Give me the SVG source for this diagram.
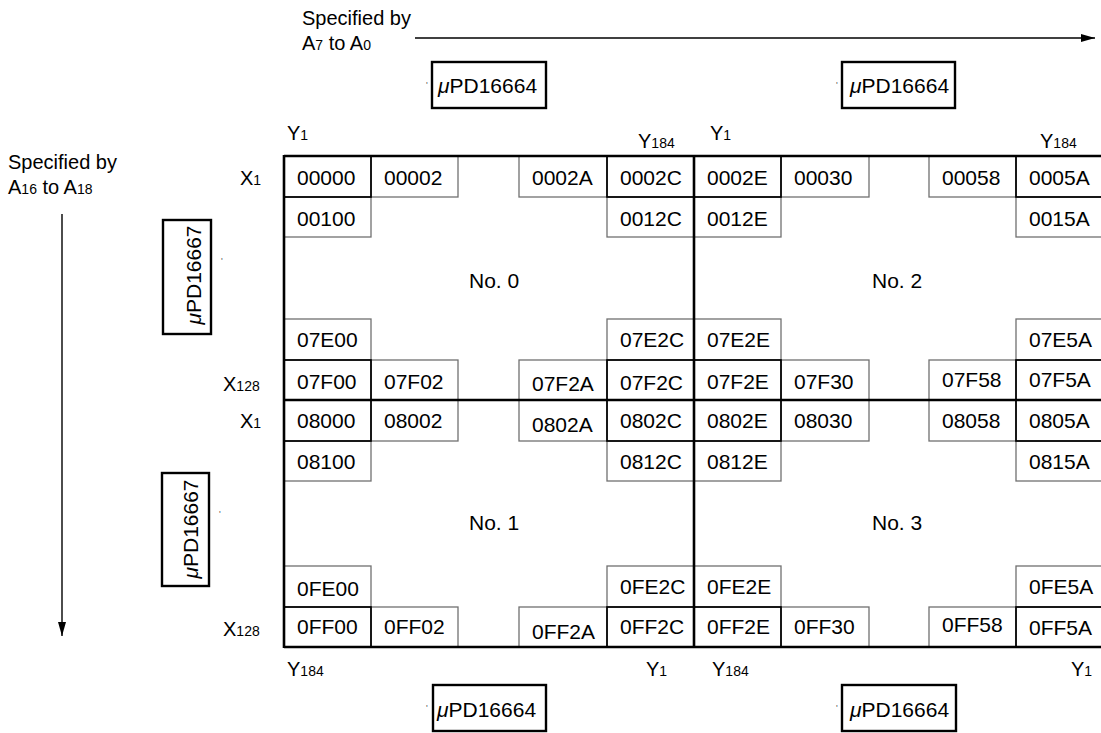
<svg xmlns="http://www.w3.org/2000/svg" width="1101" height="733" viewBox="0 0 1101 733">
<style>
text{font-family:"Liberation Sans",Arial,sans-serif;font-size:21px;fill:#000}
.lbl{font-size:20px}
.sub{font-size:14px}
.cg{fill:#fff;stroke:#707070;stroke-width:1.3}
.cb{fill:none;stroke:#000;stroke-width:1.7}
.thick{stroke:#000;stroke-width:2.6;fill:none}
.chip{fill:#fff;stroke:#000;stroke-width:2.4}
.tick{font-size:9px;fill:#555}
.arr{stroke:#000;stroke-width:1.4;fill:none}
</style>
<defs>
<marker id="ah" viewBox="0 0 14 8" refX="14" refY="4" markerWidth="14" markerHeight="8" markerUnits="userSpaceOnUse" orient="auto">
<path d="M0,0 L14,4 L0,8 Z" fill="#000"/>
</marker>
</defs>
<rect width="1101" height="733" fill="#fff"/>

<g id="label-top">
<text class="lbl" x="302" y="25">Specified by</text>
<text class="lbl" x="302" y="50">A<tspan class="sub">7</tspan> to A<tspan class="sub">0</tspan></text>
</g>
<g id="label-left">
<text class="lbl" x="8" y="169">Specified by</text>
<text class="lbl" x="8" y="194">A<tspan class="sub">16</tspan> to A<tspan class="sub">18</tspan></text>
</g>

<g id="connectors">
<line class="arr" x1="415" y1="38" x2="1095" y2="38" marker-end="url(#ah)"/>
<line class="arr" x1="62" y1="214" x2="62" y2="636" marker-end="url(#ah)"/>
</g>

<g id="chip-top-left">
<rect class="chip" x="432" y="62" width="114" height="46"/>
<text x="438" y="93"><tspan font-style="italic">μ</tspan>PD16664</text>
<text class="tick" x="426" y="88">'</text>
</g>
<g id="chip-top-right">
<rect class="chip" x="842" y="62" width="113" height="46"/>
<text x="850" y="93"><tspan font-style="italic">μ</tspan>PD16664</text>
<text class="tick" x="836" y="88">'</text>
</g>
<g id="chip-bottom-left">
<rect class="chip" x="433" y="685" width="113" height="46"/>
<text x="437" y="717"><tspan font-style="italic">μ</tspan>PD16664</text>
<text class="tick" x="426" y="711">'</text>
</g>
<g id="chip-bottom-right">
<rect class="chip" x="842" y="685" width="114" height="46"/>
<text x="850" y="717"><tspan font-style="italic">μ</tspan>PD16664</text>
<text class="tick" x="836" y="711">'</text>
</g>
<g id="chip-left-upper">
<rect class="chip" x="163" y="220" width="48" height="114"/>
<text transform="translate(201,275) rotate(-90)" text-anchor="middle"><tspan font-style="italic">μ</tspan>PD16667</text>
<text class="tick" x="221" y="264">'</text>
</g>
<g id="chip-left-lower">
<rect class="chip" x="162" y="473" width="47" height="113"/>
<text transform="translate(198,529) rotate(-90)" text-anchor="middle"><tspan font-style="italic">μ</tspan>PD16667</text>
<text class="tick" x="219" y="517">'</text>
</g>

<g id="axis-labels">
<text class="lbl" x="287" y="140">Y<tspan class="sub">1</tspan></text>
<text class="lbl" x="638" y="148">Y<tspan class="sub">184</tspan></text>
<text class="lbl" x="710" y="140">Y<tspan class="sub">1</tspan></text>
<text class="lbl" x="1040" y="148">Y<tspan class="sub">184</tspan></text>
<text class="lbl" x="287" y="676">Y<tspan class="sub">184</tspan></text>
<text class="lbl" x="646" y="676">Y<tspan class="sub">1</tspan></text>
<text class="lbl" x="712" y="676">Y<tspan class="sub">184</tspan></text>
<text class="lbl" x="1071" y="676">Y<tspan class="sub">1</tspan></text>
<text class="lbl" x="240" y="185">X<tspan class="sub">1</tspan></text>
<text class="lbl" x="223" y="391">X<tspan class="sub">128</tspan></text>
<text class="lbl" x="240" y="428">X<tspan class="sub">1</tspan></text>
<text class="lbl" x="223" y="636">X<tspan class="sub">128</tspan></text>
</g>

<g id="cells-gray">
<g id="c00002"><rect class="cg" x="371" y="156" width="87" height="41"/><text x="384" y="185">00002</text></g>
<g id="c0002A"><rect class="cg" x="519" y="156" width="88" height="41"/><text x="532" y="185">0002A</text></g>
<g id="c00030"><rect class="cg" x="781" y="156" width="88" height="41"/><text x="794" y="185">00030</text></g>
<g id="c00058"><rect class="cg" x="929" y="156" width="87" height="41"/><text x="942" y="185">00058</text></g>
<g id="c00100"><rect class="cg" x="284" y="197" width="87" height="40"/><text x="297" y="226">00100</text></g>
<g id="c0012C"><rect class="cg" x="607" y="197" width="87" height="40"/><text x="620" y="226">0012C</text></g>
<g id="c0012E"><rect class="cg" x="694" y="197" width="87" height="40"/><text x="707" y="226">0012E</text></g>
<g id="c0015A"><rect class="cg" x="1016" y="197" width="90" height="40"/><text x="1029" y="226">0015A</text></g>
<g id="c07E00"><rect class="cg" x="284" y="319" width="87" height="41"/><text x="297" y="347">07E00</text></g>
<g id="c07E2C"><rect class="cg" x="607" y="319" width="87" height="41"/><text x="620" y="347">07E2C</text></g>
<g id="c07E2E"><rect class="cg" x="694" y="319" width="87" height="41"/><text x="707" y="347">07E2E</text></g>
<g id="c07E5A"><rect class="cg" x="1016" y="319" width="90" height="41"/><text x="1029" y="347">07E5A</text></g>
<g id="c07F02"><rect class="cg" x="371" y="360" width="87" height="40"/><text x="384" y="389">07F02</text></g>
<g id="c07F2A"><rect class="cg" x="519" y="360" width="88" height="40"/><text x="532" y="391">07F2A</text></g>
<g id="c07F30"><rect class="cg" x="781" y="360" width="88" height="40"/><text x="794" y="389">07F30</text></g>
<g id="c07F58"><rect class="cg" x="929" y="360" width="87" height="40"/><text x="942" y="387">07F58</text></g>
<g id="c08002"><rect class="cg" x="371" y="400" width="87" height="41"/><text x="384" y="428">08002</text></g>
<g id="c0802A"><rect class="cg" x="519" y="400" width="88" height="41"/><text x="532" y="432">0802A</text></g>
<g id="c08030"><rect class="cg" x="781" y="400" width="88" height="41"/><text x="794" y="428">08030</text></g>
<g id="c08058"><rect class="cg" x="929" y="400" width="87" height="41"/><text x="942" y="428">08058</text></g>
<g id="c08100"><rect class="cg" x="284" y="441" width="87" height="40"/><text x="297" y="469">08100</text></g>
<g id="c0812C"><rect class="cg" x="607" y="441" width="87" height="40"/><text x="620" y="469">0812C</text></g>
<g id="c0812E"><rect class="cg" x="694" y="441" width="87" height="40"/><text x="707" y="469">0812E</text></g>
<g id="c0815A"><rect class="cg" x="1016" y="441" width="90" height="40"/><text x="1029" y="469">0815A</text></g>
<g id="c0FE00"><rect class="cg" x="284" y="566" width="87" height="41"/><text x="297" y="596">0FE00</text></g>
<g id="c0FE2C"><rect class="cg" x="607" y="566" width="87" height="41"/><text x="620" y="594">0FE2C</text></g>
<g id="c0FE2E"><rect class="cg" x="694" y="566" width="87" height="41"/><text x="707" y="594">0FE2E</text></g>
<g id="c0FE5A"><rect class="cg" x="1016" y="566" width="90" height="41"/><text x="1029" y="594">0FE5A</text></g>
<g id="c0FF02"><rect class="cg" x="371" y="607" width="87" height="40"/><text x="384" y="634">0FF02</text></g>
<g id="c0FF2A"><rect class="cg" x="519" y="607" width="88" height="40"/><text x="532" y="639">0FF2A</text></g>
<g id="c0FF30"><rect class="cg" x="781" y="607" width="88" height="40"/><text x="794" y="634">0FF30</text></g>
<g id="c0FF58"><rect class="cg" x="929" y="607" width="87" height="40"/><text x="942" y="632">0FF58</text></g>
</g>

<g id="cells-black">
<g id="c00000"><rect class="cb" x="284" y="156" width="87" height="41"/><text x="297" y="185">00000</text></g>
<g id="c0002C"><rect class="cb" x="607" y="156" width="87" height="41"/><text x="620" y="185">0002C</text></g>
<g id="c0002E"><rect class="cb" x="694" y="156" width="87" height="41"/><text x="707" y="185">0002E</text></g>
<g id="c0005A"><rect class="cb" x="1016" y="156" width="90" height="41"/><text x="1029" y="185">0005A</text></g>
<g id="c07F00"><rect class="cb" x="284" y="360" width="87" height="40"/><text x="297" y="389">07F00</text></g>
<g id="c07F2C"><rect class="cb" x="607" y="360" width="87" height="40"/><text x="620" y="390">07F2C</text></g>
<g id="c07F2E"><rect class="cb" x="694" y="360" width="87" height="40"/><text x="707" y="389">07F2E</text></g>
<g id="c07F5A"><rect class="cb" x="1016" y="360" width="90" height="40"/><text x="1029" y="387">07F5A</text></g>
<g id="c08000"><rect class="cb" x="284" y="400" width="87" height="41"/><text x="297" y="428">08000</text></g>
<g id="c0802C"><rect class="cb" x="607" y="400" width="87" height="41"/><text x="620" y="428">0802C</text></g>
<g id="c0802E"><rect class="cb" x="694" y="400" width="87" height="41"/><text x="707" y="428">0802E</text></g>
<g id="c0805A"><rect class="cb" x="1016" y="400" width="90" height="41"/><text x="1029" y="428">0805A</text></g>
<g id="c0FF00"><rect class="cb" x="284" y="607" width="87" height="40"/><text x="297" y="634">0FF00</text></g>
<g id="c0FF2C"><rect class="cb" x="607" y="607" width="87" height="40"/><text x="620" y="634">0FF2C</text></g>
<g id="c0FF2E"><rect class="cb" x="694" y="607" width="87" height="40"/><text x="707" y="634">0FF2E</text></g>
<g id="c0FF5A"><rect class="cb" x="1016" y="607" width="90" height="40"/><text x="1029" y="635">0FF5A</text></g>
</g>

<g id="frame">
<line class="thick" x1="284" y1="156" x2="1101" y2="156"/>
<line class="thick" x1="284" y1="400" x2="1101" y2="400"/>
<line class="thick" x1="284" y1="647" x2="1101" y2="647"/>
<line class="thick" x1="284" y1="155" x2="284" y2="648"/>
<line class="thick" x1="694" y1="155" x2="694" y2="648"/>
</g>

<g id="quadrant-labels">
<text x="469" y="288">No. 0</text>
<text x="872" y="288">No. 2</text>
<text x="469" y="530">No. 1</text>
<text x="872" y="530">No. 3</text>
</g>
</svg>
